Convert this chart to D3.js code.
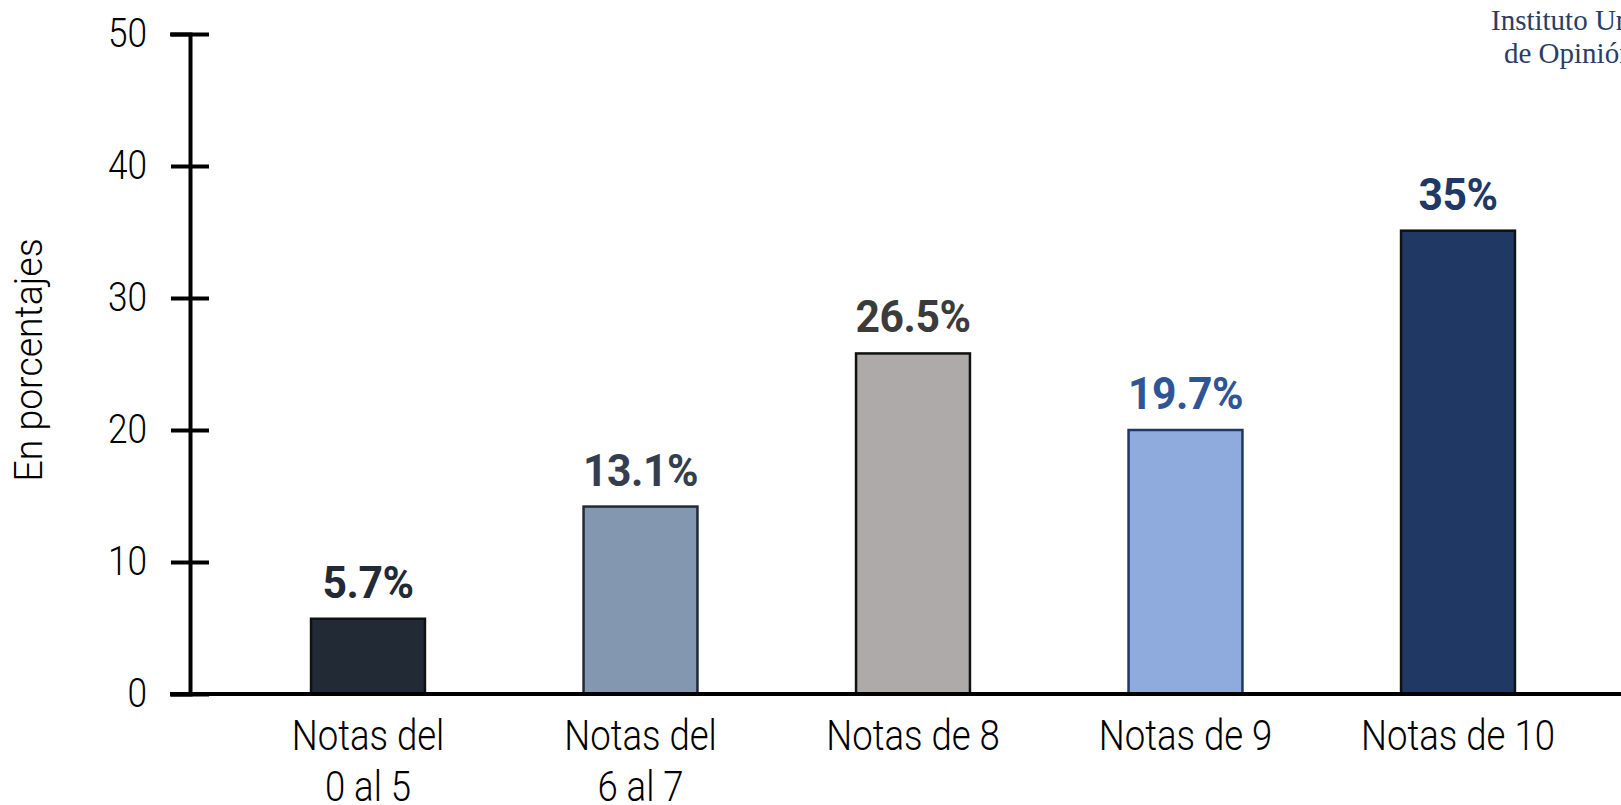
<!DOCTYPE html>
<html>
<head>
<meta charset="utf-8">
<script src="https://cdn.jsdelivr.net/npm/d3@7"></script>
<style>
  html, body { margin: 0; padding: 0; background: #fff; }
  svg { display: block; }
  .thin { font-family: Roboto, "Noto Sans", sans-serif; font-weight: 300; }
</style>
</head>
<body>
<div id="chart"></div>
<script>
// data
const categories = [["Notas del", "0 al 5"], ["Notas del", "6 al 7"], ["Notas de 8"], ["Notas de 9"], ["Notas de 10"]];
const barValues = [5.7, 14.2, 25.8, 20.0, 35.1];   // bar heights as drawn
const valueLabels = ["5.7%", "13.1%", "26.5%", "19.7%", "35%"];
const yTicks = [0, 10, 20, 30, 40, 50];
const barFill = ["#222a35", "#8497b0", "#aeaaaa", "#8faadc", "#203864"];
const barStroke = ["#111111", "#222a35", "#111111", "#1f3864", "#111111"];
const labelColor = ["#222a35", "#333f50", "#3b3b3b", "#2f5597", "#1f3864"];

const width = 1621, height = 805;

const svg = d3.select("#chart")
    .append("svg")
    .attr("width", width)
    .attr("height", height);

const y = d3.scaleLinear().domain([0, 50]).range([694, 34]);
const x = d3.scaleBand()
    .domain(d3.range(categories.length))
    .range([231.75, 1594.25])
    .paddingInner(0.582)
    .paddingOuter(0.291);
const axisX = 190;

// logo text (cropped at the right edge, as in the source)
const logo = svg.append("g")
    .attr("font-family", "'Liberation Serif', 'DejaVu Serif', serif")
    .attr("font-size", 29)
    .attr("fill", "#2a3d66");
logo.append("text").attr("x", 1491).attr("y", 30).text("Instituto Universitario");
logo.append("text").attr("x", 1504).attr("y", 63).text("de Opinión Pública");

// bars
svg.append("g")
    .selectAll("rect")
    .data(barValues)
    .join("rect")
    .attr("x", (d, i) => x(i))
    .attr("y", d => y(d))
    .attr("width", x.bandwidth())
    .attr("height", d => y(0) - y(d))
    .attr("fill", (d, i) => barFill[i])
    .attr("stroke", (d, i) => barStroke[i])
    .attr("stroke-width", 2.5);

// value labels
svg.append("g")
    .selectAll("text")
    .data(barValues)
    .join("text")
    .attr("transform", (d, i) => `translate(${x(i) + x.bandwidth() / 2},${y(d) - 21}) scale(0.97,1)`)
    .attr("text-anchor", "middle")
    .attr("font-family", "Roboto, sans-serif")
    .attr("font-weight", 700)
    .attr("font-size", 44)
    .attr("letter-spacing", -0.5)
    .attr("fill", (d, i) => labelColor[i])
    .text((d, i) => valueLabels[i]);

// y axis
const yAxis = svg.append("g")
    .attr("transform", `translate(${axisX},0)`)
    .call(d3.axisLeft(y).tickValues(yTicks).tickSizeOuter(0).tickSize(20));
yAxis.select(".domain").attr("stroke", "#000").attr("stroke-width", 4);
yAxis.selectAll(".tick line")
    .attr("x1", 19).attr("x2", -19)
    .attr("stroke", "#000").attr("stroke-width", 4);
yAxis.selectAll(".tick text")
    .attr("class", "thin")
    .attr("x", 0)
    .attr("transform", "translate(-43,0) scale(0.88,1)")
    .attr("dy", "0.3em")
    .attr("font-size", 40)
    .attr("fill", "#000");

// x axis baseline
svg.append("line")
    .attr("x1", 170).attr("x2", width)
    .attr("y1", y(0)).attr("y2", y(0))
    .attr("stroke", "#000")
    .attr("stroke-width", 4);

// category labels
const xAxis = svg.append("g")
    .attr("transform", `translate(0,${y(0)})`)
    .call(d3.axisBottom(x).tickSize(0).tickFormat(() => ""));
xAxis.select(".domain").remove();
xAxis.selectAll(".tick text")
    .attr("class", "thin")
    .attr("font-size", 42)
    .attr("fill", "#000")
    .attr("y", 0)
    .attr("dy", 0)
    .attr("transform", "scale(0.87,1)")
    .each(function(d) {
        const t = d3.select(this);
        categories[d].forEach((line, k) => {
            t.append("tspan")
                .attr("x", 0)
                .attr("y", 56 + k * 51)
                .text(line);
        });
    });

// y axis title
svg.append("text")
    .attr("class", "thin")
    .attr("transform", `translate(42,360) rotate(-90) scale(0.96,1)`)
    .attr("text-anchor", "middle")
    .attr("font-size", 39)
    .attr("fill", "#000")
    .text("En porcentajes");
</script>
</body>
</html>
